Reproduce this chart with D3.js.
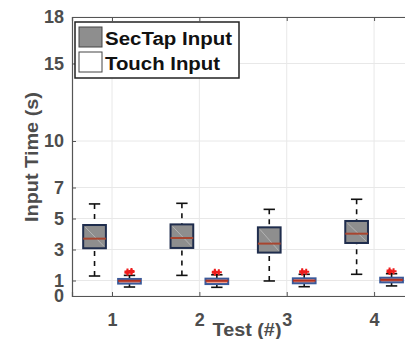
<!DOCTYPE html>
<html>
<head>
<meta charset="utf-8">
<script src="https://cdn.jsdelivr.net/npm/d3@7"></script>
<style>
  body { margin: 0; background: #fff; }
</style>
</head>
<body>
<svg id="chart" width="405" height="339"></svg>
<script>
// tests on the x axis
const tests = [1, 2, 3, 4];
const yTicks = [0, 1, 3, 5, 7, 10, 15, 18];

// box stats: [lowWhisker, q1, median, q3, highWhisker]
const secTapStats = [
  [1.29, 3.08, 3.70, 4.58, 5.94],
  [1.33, 3.10, 3.74, 4.62, 5.98],
  [0.97, 2.80, 3.38, 4.43, 5.59],
  [1.40, 3.42, 4.02, 4.84, 6.24]
];
const touchStats = [
  [0.58, 0.80, 0.98, 1.10, 1.33],
  [0.56, 0.77, 0.98, 1.12, 1.37],
  [0.60, 0.82, 0.99, 1.14, 1.40],
  [0.65, 0.88, 1.04, 1.18, 1.44]
];
// outliers of touch input (red + markers)
const touchOutliers = [
  [1.50, 1.55, 1.58, 1.62],
  [1.50, 1.54, 1.57],
  [1.52, 1.56, 1.60],
  [1.55, 1.60, 1.65]
];
const legendLabels = ["SecTap Input", "Touch Input"];

const svg = d3.select("#chart")
  .style("font-family", "Liberation Sans")
  .style("font-weight", "bold");
const mLeft = 72, mTop = 17, mBottom = 296, mRight = 430;

let x = d3.scaleLinear().domain([0.542, 4.64]).range([mLeft, mRight]);
let y = d3.scaleLinear().domain([0, 18]).range([mBottom, mTop]);

const gridColor = "#e8e8e8", axisColor = "#555";

// grid
svg.append("g").selectAll("line.gy").data(yTicks).enter().append("line")
  .attr("x1", mLeft).attr("x2", 405)
  .attr("y1", d => y(d)).attr("y2", d => y(d))
  .attr("stroke", gridColor).attr("stroke-width", 1);
svg.append("g").selectAll("line.gx").data(tests).enter().append("line")
  .attr("x1", d => x(d)).attr("x2", d => x(d))
  .attr("y1", mTop).attr("y2", mBottom)
  .attr("stroke", gridColor).attr("stroke-width", 1);

// axes
let yAxis = d3.axisLeft(y).tickValues(yTicks).tickSize(-4).tickPadding(8);
let gy = svg.append("g").attr("transform", "translate(" + mLeft + ",0)").call(yAxis);
let xAxis = d3.axisBottom(x).tickValues(tests).tickFormat(d3.format("d")).tickSize(-4).tickPadding(17);
let gx = svg.append("g").attr("transform", "translate(0," + mBottom + ")").call(xAxis);
[gx, gy].forEach(g => {
  g.attr("font-family", null).attr("font-size", null);
  g.select(".domain").attr("stroke", axisColor).attr("stroke-width", 1.2);
  g.selectAll(".tick line").attr("stroke", axisColor);
  g.selectAll("text").attr("fill", "#4d4d4d")
    .style("font-family", "Liberation Sans")
    .style("font-size", "18px").style("font-weight", "bold");
});
// top border with ticks
let xTop = d3.axisTop(x).tickValues(tests).tickSize(-4).tickFormat("");
let gt = svg.append("g").attr("transform", "translate(0," + mTop + ")").call(xTop);
gt.select(".domain").attr("stroke", axisColor).attr("stroke-width", 1.2);
gt.selectAll(".tick line").attr("stroke", axisColor);

// axis titles
svg.append("text").attr("x", 247).attr("y", 336).attr("text-anchor", "middle")
  .attr("fill", "#4d4d4d").style("font-size", "18px")
  .attr("textLength", 69).attr("lengthAdjust", "spacingAndGlyphs").text("Test (#)");
svg.append("text").attr("transform", "translate(38,157) rotate(-90)")
  .attr("text-anchor", "middle").attr("fill", "#4d4d4d").style("font-size", "18px")
  .attr("textLength", 130).attr("lengthAdjust", "spacingAndGlyphs")
  .text("Input Time (s)");

// boxes
const halfW = 0.13, capW = 0.065;
function drawBoxes(stats, offset, fill, stroke, median, diag) {
  stats.forEach((s, i) => {
    let cx = tests[i] + offset;
    let g = svg.append("g");
    // whiskers
    g.append("line").attr("x1", x(cx)).attr("x2", x(cx))
      .attr("y1", y(s[0])).attr("y2", y(s[1]))
      .attr("stroke", "#111").attr("stroke-width", 1.6).attr("stroke-dasharray", "5,5");
    g.append("line").attr("x1", x(cx)).attr("x2", x(cx))
      .attr("y1", y(s[4])).attr("y2", y(s[3]))
      .attr("stroke", "#111").attr("stroke-width", 1.6).attr("stroke-dasharray", "5,5");
    [s[0], s[4]].forEach(v => {
      g.append("line").attr("x1", x(cx - capW)).attr("x2", x(cx + capW))
        .attr("y1", y(v)).attr("y2", y(v)).attr("stroke", "#111").attr("stroke-width", 1.6);
    });
    // box
    g.append("rect").attr("x", x(cx - halfW)).attr("width", x(cx + halfW) - x(cx - halfW))
      .attr("y", y(s[3])).attr("height", y(s[1]) - y(s[3]))
      .attr("fill", fill).attr("stroke", stroke).attr("stroke-width", 2);
    if (diag) {
      g.append("line").attr("x1", x(cx - halfW) + 2).attr("y1", y(s[3]) + 2)
        .attr("x2", x(cx + halfW) - 2).attr("y2", y(s[1]) - 2)
        .attr("stroke", "#bdbdbd").attr("stroke-width", 0.8);
    }
    g.append("line").attr("x1", x(cx - halfW)).attr("x2", x(cx + halfW))
      .attr("y1", y(s[2])).attr("y2", y(s[2]))
      .attr("stroke", median).attr("stroke-width", 2);
  });
}
drawBoxes(secTapStats, -0.2, "#8e8e8e", "#1f2d4d", "#a8452f", true);
drawBoxes(touchStats, 0.2, "#f3a08f", "#3a5a9a", "#b03020", false);

// outliers
touchOutliers.forEach((arr, i) => {
  let cx = tests[i] + 0.2;
  arr.forEach((v, j) => {
    let px = x(cx) + (j % 2 ? 2 : -2), py = y(v);
    svg.append("path").attr("d", "M" + (px - 3) + "," + py + "h6M" + px + "," + (py - 3) + "v6")
      .attr("stroke", "#ee1c1c").attr("stroke-width", 2);
  });
});

// legend
let lg = svg.append("g");
lg.append("rect").attr("x", 75).attr("y", 22).attr("width", 164).attr("height", 56)
  .attr("fill", "#fff").attr("stroke", "#222").attr("stroke-width", 1.5);
const swatchFill = ["#8e8e8e", "#fff"];
const legendWidths = [127, 115];
legendLabels.forEach((lab, i) => {
  lg.append("rect").attr("x", 79).attr("y", 27 + i * 25).attr("width", 23).attr("height", 20)
    .attr("fill", swatchFill[i]).attr("stroke", "#444").attr("stroke-width", 1);
  lg.append("text").attr("x", 105).attr("y", 45 + i * 25).attr("fill", "#111")
    .style("font-size", "18px")
    .attr("textLength", legendWidths[i]).attr("lengthAdjust", "spacingAndGlyphs")
    .text(lab);
});
</script>
</body>
</html>
